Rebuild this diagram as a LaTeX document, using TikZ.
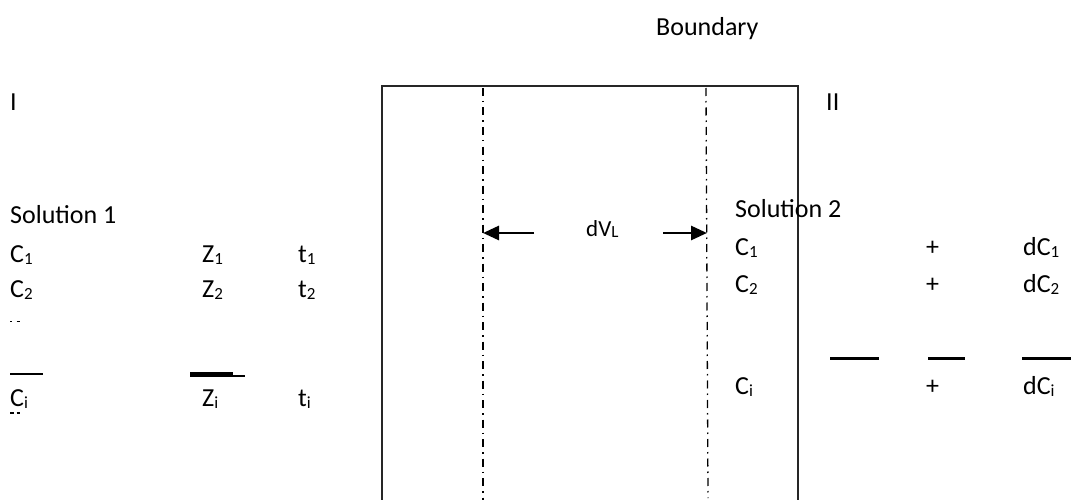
\documentclass[tikz,border=0pt]{standalone}
\usepackage{fontspec}
\setmainfont{Carlito}
\usetikzlibrary{arrows.meta}
\newcommand{\sbs}[1]{\raisebox{-0.08em}{\fontsize{17}{17}\selectfont #1}}
\begin{document}
\begin{tikzpicture}[x=1pt,y=-1pt,
  lbl/.style={anchor=base west,inner sep=0pt,font=\fontsize{26}{31}\selectfont},
  small/.style={anchor=base west,inner sep=0pt,font=\fontsize{23}{27}\selectfont},
  wall/.style={line width=1.6pt,black!85},
  plane/.style={line width=1.3pt,dash pattern=on 8pt off 5pt on 1.5pt off 5pt},
  bar/.style={line width=2.2pt},
  dimarrow/.style={line width=2.8pt,-{Triangle[length=16pt,width=14pt]}}]
\useasboundingbox (0,0) rectangle (1073,500);

% container walls (open at the bottom)
\draw[wall] (382,500) -- (382,86) -- (798,86) -- (798,500);

% boundary planes of the thin layer
\coordinate (pl1) at (483,88);
\coordinate (pl2) at (483,500);
\coordinate (pr1) at (706,88);
\coordinate (pr2) at (708,498);
\draw[plane] (pl1) -- (pl2);
\draw[plane] (pr1) -- (pr2);

% layer thickness
\node[small] (dv) at (586,236) {dV\sbs{L}};
\coordinate (al) at (534,233);
\coordinate (alt) at (483,233);
\coordinate (ar) at (663,233);
\coordinate (art) at (707,233);
\draw[dimarrow] (al) -- (alt);
\draw[dimarrow] (ar) -- (art);

% headings
\node[lbl] (bnd) at (656,36) {Boundary};
\node[lbl] (r1) at (10,111) {I};
\node[lbl] (r2) at (826,111) {II};

% solution 1
\node[lbl] (s1) at (10,223) {Solution 1};
\node[lbl] (c1) at (10,262) {C\sbs{1}};
\node[lbl] (c2) at (10,297) {C\sbs{2}};
\node[lbl] (ci) at (10,406) {C\sbs{i}};
\node[lbl] (z1) at (202,262) {Z\sbs{1}};
\node[lbl] (z2) at (202,297) {Z\sbs{2}};
\node[lbl] (zi) at (202,406) {Z\sbs{i}};
\node[lbl] (t1) at (298,262) {t\sbs{1}};
\node[lbl] (t2) at (298,297) {t\sbs{2}};
\node[lbl] (ti) at (298,406) {t\sbs{i}};
\draw[line width=1.5pt] (10,321.5) -- (12,321.5) (16.5,321.5) -- (20,321.5);
\draw[bar] (10,374) -- (42.5,374);
\draw[line width=5pt] (190,374.5) -- (233,374.5);
\draw[line width=2.5pt] (233,376) -- (245,376);
\draw[line width=2pt] (10,413) -- (14,413) (16.5,413) -- (20,413);

% solution 2
\node[lbl] (s2) at (735,217) {Solution 2};
\node[lbl] (d1) at (735,255) {C\sbs{1}};
\node[lbl] (d2) at (735,292) {C\sbs{2}};
\node[lbl] (di) at (735,394) {C\sbs{i}};
\node[lbl] (p1) at (926,255) {+};
\node[lbl] (p2) at (926,292) {+};
\node[lbl] (pi) at (926,394) {+};
\node[lbl] (e1) at (1023,255) {dC\sbs{1}};
\node[lbl] (e2) at (1023,292) {dC\sbs{2}};
\node[lbl] (ei) at (1023,394) {dC\sbs{i}};
\draw[bar] (830,358.5) -- (879,358.5);
\draw[bar] (928,358.5) -- (965,358.5);
\draw[bar] (1022,358.5) -- (1071,358.5);
\end{tikzpicture}
\end{document}
